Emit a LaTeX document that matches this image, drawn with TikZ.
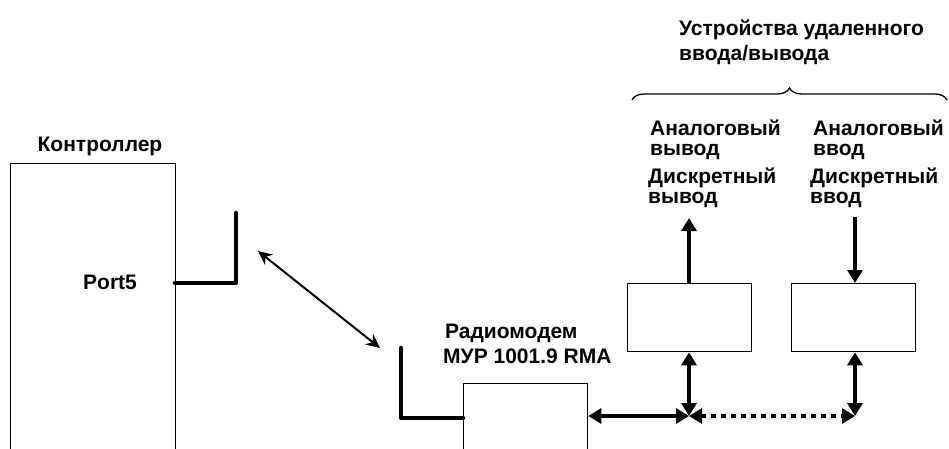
\documentclass[tikz,border=0pt]{standalone}
\usepackage{fontspec}
\setmainfont{Liberation Sans}
\usetikzlibrary{arrows.meta,decorations.pathreplacing}

\begin{document}
\begin{tikzpicture}[x=1pt,y=-1pt,>={Triangle[length=13pt,width=15pt]},
    every node/.style={font=\bfseries\fontsize{21}{19.5}\selectfont,inner sep=0pt},
    blok/.style={draw,line width=1.3pt,anchor=north west},
    txt/.style={anchor=base west,align=left},
    ant/.style={line width=4.5pt,line cap=round,line join=round},
    bus/.style={line width=4.5pt}]
  \clip (0,0) rectangle (949,448);
  % controller
  \node[blok,minimum width=165pt,minimum height=300pt] (ctrl) at (10,163) {};
  \node[anchor=base] (ctrltxt) at (100,151) {Контроллер};
  \node[anchor=base west] (port) at (83,289) {Port5};
  \coordinate (p5) at (175,283);
  \coordinate (a1) at (236,213);
  \draw[ant] (p5) -- (p5-|a1) -- (a1);
  % radio link
  \coordinate (w1) at (258,251);
  \coordinate (w2) at (380,348);
  \draw[line width=2pt,{Stealth[length=14pt,width=13pt]}-{Stealth[length=14pt,width=13pt]}] (w1) -- (w2);
  % radiomodem
  \node[blok,minimum width=124pt,minimum height=100pt] (modem) at (463,383) {};
  \node[anchor=base west] (modtxt1) at (445,338) {Радиомодем};
  \node[anchor=base west] (modtxt2) at (443,363) {МУР 1001.9 RMA};
  \coordinate (a2) at (401,348);
  \coordinate (m2) at (463,418);
  \draw[ant] (a2) -- (a2|-m2) -- (m2);
  % remote i/o
  \node[blok,minimum width=124pt,minimum height=68pt] (io1) at (627,283) {};
  \node[blok,minimum width=124pt,minimum height=68pt] (io2) at (791,283) {};
  \coordinate (j1) at (689,416);
  \coordinate (j2) at (855,416);
  \draw[bus,<->] (modem.east|-j1) -- (j1);
  \draw[bus,<->] (io1.south-|j1) -- (j1);
  \draw[bus,<->] (io2.south-|j2) -- (j2);
  \draw[bus,<->,dash pattern=on 5pt off 5pt] (j1) -- (j2);
  \coordinate (o1) at (689,218);
  \coordinate (i2) at (855,217);
  \draw[bus,->] (io1.north-|o1) -- (o1);
  \draw[bus,->] (i2) -- (io2.north-|i2);
  % labels (base = last line)
  \node[txt] (ao) at (650,155) {Аналоговый\\вывод};
  \node[txt] (do) at (648,203) {Дискретный\\вывод};
  \node[txt] (ai) at (813,155) {Аналоговый\\ввод};
  \node[txt] (di) at (810,203) {Дискретный\\ввод};
  \draw[line width=1.3pt,decorate,decoration={brace,amplitude=12pt}] (632,100) -- (947,100);
  \node[txt,font=\bfseries\fontsize{21}{25}\selectfont] (title) at (679,60) {Устройства удаленного\\ввода/вывода};
\end{tikzpicture}
\end{document}
